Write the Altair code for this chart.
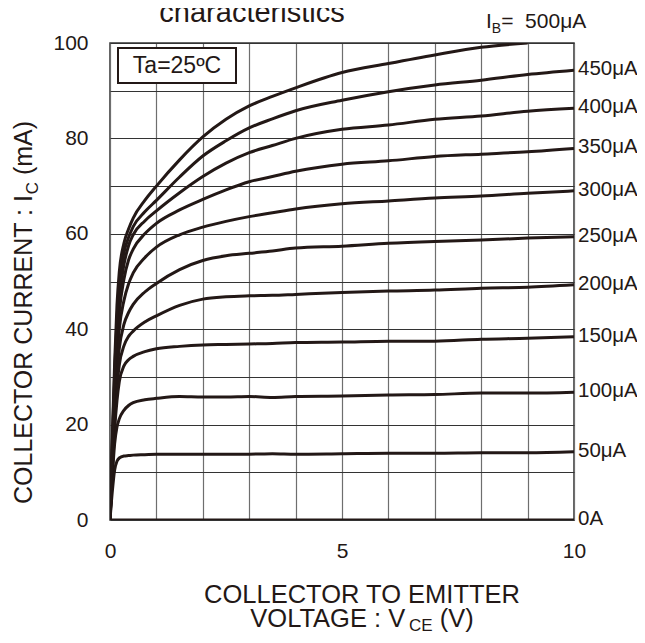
import altair as alt
import pandas as pd

# ---------------- data ----------------
V = [0, 0.05, 0.1, 0.15, 0.2, 0.3, 0.4, 0.5, 0.75, 1, 1.5, 2, 2.5, 3, 3.5, 4, 5, 6, 7, 8, 9, 10]

IB_LABELS = ["0A", "50μA", "100μA", "150μA", "200μA", "250μA",
             "300μA", "350μA", "400μA", "450μA", "500μA"]

IC_0 = [0] * 22
IC_50 = [0, 6, 10.5, 12.3, 13.0, 13.4, 13.5, 13.6, 13.7, 13.8, 13.8, 13.8, 13.8, 13.8, 13.9, 13.8, 13.9, 14.0, 14.0, 14.1, 14.1, 14.3]
IC_100 = [0, 9, 16, 19.5, 21.2, 23.0, 24.0, 24.6, 25.2, 25.5, 25.9, 25.8, 25.8, 25.9, 25.7, 25.9, 26.0, 26.2, 26.3, 26.6, 26.6, 26.8]
IC_150 = [0, 10, 19, 25, 29, 32.3, 33.6, 34.3, 35.3, 35.9, 36.4, 36.7, 36.8, 36.9, 37.0, 37.2, 37.3, 37.5, 37.5, 37.9, 38.1, 38.4]
IC_200 = [0, 11, 21, 28, 32.5, 36.5, 38.5, 39.6, 41.5, 42.8, 45.0, 46.3, 46.8, 47.0, 47.1, 47.3, 47.7, 48.0, 48.2, 48.6, 48.8, 49.3]
IC_250 = [0, 12, 23, 31, 36, 41, 43.5, 45.2, 47.8, 49.6, 52.5, 54.4, 55.4, 55.9, 56.4, 57.0, 57.4, 58.0, 58.4, 58.7, 59.1, 59.4]
IC_300 = [0, 13, 25, 34, 40, 46, 49.5, 51.8, 55.0, 57.2, 59.8, 61.4, 62.6, 63.6, 64.4, 65.2, 66.3, 66.9, 67.5, 67.9, 68.5, 69.0]
IC_350 = [0, 14, 27, 37, 43.5, 50.5, 54.5, 56.8, 60.0, 62.2, 65.0, 67.2, 69.2, 70.9, 72.0, 73.1, 74.6, 75.3, 76.2, 76.7, 77.2, 77.9]
IC_400 = [0, 15, 29, 40, 46.5, 53.5, 57.5, 59.8, 62.7, 64.8, 68.6, 72.0, 74.8, 77.0, 78.5, 80.0, 81.9, 82.8, 84.0, 84.7, 85.7, 86.3]
IC_450 = [0, 16, 31, 42, 49, 56, 59.2, 61.5, 64.6, 67.0, 71.9, 76.3, 79.5, 82.2, 84.1, 85.8, 88.0, 89.8, 91.2, 92.2, 93.4, 94.3]
IC_500 = [0, 17, 33, 45, 52, 58, 61, 63.3, 67.0, 70.0, 75.5, 80.3, 84.0, 86.8, 88.8, 90.6, 93.8, 95.7, 97.5, 99.1, 100, None]

SERIES = [IC_0, IC_50, IC_100, IC_150, IC_200, IC_250, IC_300, IC_350, IC_400, IC_450, IC_500]

X_TICKS = list(range(0, 11))
Y_TICKS = list(range(0, 101, 10))

# ---------------- build tables ----------------
rows = []
for lab, ys in zip(IB_LABELS, SERIES):
    for v, i in zip(V, ys):
        if i is not None:
            rows.append({"series": lab, "V": v, "I": i})
curves = pd.DataFrame(rows)

end_rows = [{"label": lab, "V": V[-1], "I": ys[-1]}
            for lab, ys in zip(IB_LABELS[:-1], SERIES[:-1])]
ends = pd.DataFrame(end_rows)

INK = "#231816"
FONT = "Liberation Sans"

W = {' ': 278, '(': 333, ')': 333, ':': 278, '=': 584, 'A': 667, 'B': 667, 'C': 722,
     'E': 667, 'G': 778, 'I': 278, 'L': 556, 'M': 833, 'N': 722, 'O': 778, 'R': 722,
     'T': 611, 'U': 722, 'V': 667, 'm': 833, 'μ': 576}


def tw(s, size):
    return sum(W.get(c, 556) for c in s) * size / 1000.0


one = pd.DataFrame({"a": [0]})


def txt(text, x, y, size, angle=0, align="left", baseline="alphabetic"):
    kw = dict(text=text, font=FONT, fontSize=size, color=INK, align=align, baseline=baseline)
    if angle:
        kw["angle"] = angle
    return alt.Chart(one).mark_text(**kw).encode(x=alt.value(x), y=alt.value(y))


# ---------------- layers ----------------
xax = alt.Axis(values=X_TICKS, labelExpr="datum.value % 5 === 0 ? datum.label : ''",
               title=None, ticks=False, domain=False, labelFontSize=21, labelPadding=20,
               labelFlush=False, labelOverlap=False, labelColor=INK, labelFont=FONT,
               gridColor="#6e6e6e", gridWidth=1.2)
yax = alt.Axis(values=Y_TICKS, labelExpr="datum.value % 20 === 0 ? datum.label : ''",
               title=None, ticks=False, domain=False, labelFontSize=21, labelPadding=22,
               labelOverlap=False, labelColor=INK, labelFont=FONT,
               gridColor="#333333", gridWidth=1.2)

lines = alt.Chart(curves).mark_line(color=INK, strokeWidth=3, interpolate="monotone",
                                    clip=True).encode(
    x=alt.X("V:Q", scale=alt.Scale(domain=[0, 10], nice=False), axis=xax),
    y=alt.Y("I:Q", scale=alt.Scale(domain=[0, 100], nice=False), axis=yax),
    detail="series:N",
)

end_labels = alt.Chart(ends).mark_text(align="left", baseline="middle", dx=4, dy=-1,
                                       font=FONT, fontSize=20.5, color=INK).encode(
    x="V:Q", y="I:Q", text="label:N")

box = alt.Chart(one).mark_rect(fill="white", stroke=INK, strokeWidth=2).encode(
    x=alt.value(8), x2=alt.value(126), y=alt.value(5), y2=alt.value(40))
box_text = txt("Ta=25ºC", 67, 23, 23, align="center", baseline="middle")

title = txt("characteristics", 142, -21, 29, align="center")

# I_B = 500μA label at top right
ib_x = 376
ib = [txt("I", ib_x, -15, 21),
      txt("B", ib_x + tw("I", 21), -10, 14),
      txt("=", ib_x + tw("I", 21) + tw("B", 14), -15, 21),
      txt("500μA", ib_x + tw("I", 21) + tw("B", 14) + tw("=", 21) + 2 * tw(" ", 21), -15, 21)]

# y-axis title (rotated) with subscript C
ymain = "COLLECTOR CURRENT : I"
y0 = 461
ysz = 25
ytitle = [txt(ymain, -78, y0, ysz, angle=270),
          txt("C", -72, y0 - tw(ymain, ysz), 17, angle=270),
          txt("(mA)", -78, y0 - tw(ymain, ysz) - tw("C", 17) - tw(" ", ysz), ysz, angle=270)]

# x-axis title, two lines, subscript CE
cx = 252
xsz = 25.5
x1 = txt("COLLECTOR TO EMITTER", cx, 560, xsz, align="center")
p1, p2, p3 = "VOLTAGE : V", "CE", "(V)"
gap = tw(" ", xsz)
total = tw(p1, xsz) + tw(p2, 17) + gap + tw(p3, xsz)
sx = cx - total / 2
x2 = [txt(p1, sx, 584, xsz),
      txt(p2, sx + tw(p1, xsz), 588, 17),
      txt(p3, sx + tw(p1, xsz) + tw(p2, 17) + gap, 584, xsz)]

chart = alt.layer(lines, end_labels, box, box_text, title, *ib, *ytitle, x1, *x2).properties(
    width=464, height=477,
    autosize=alt.AutoSizeParams(type="none"),
    padding={"left": 102, "top": 35, "right": 63, "bottom": 115},
    background="white",
).configure_view(stroke="#333333", strokeWidth=1.5)

chart.save("out.html", embed_options={"renderer": "svg", "actions": False})
